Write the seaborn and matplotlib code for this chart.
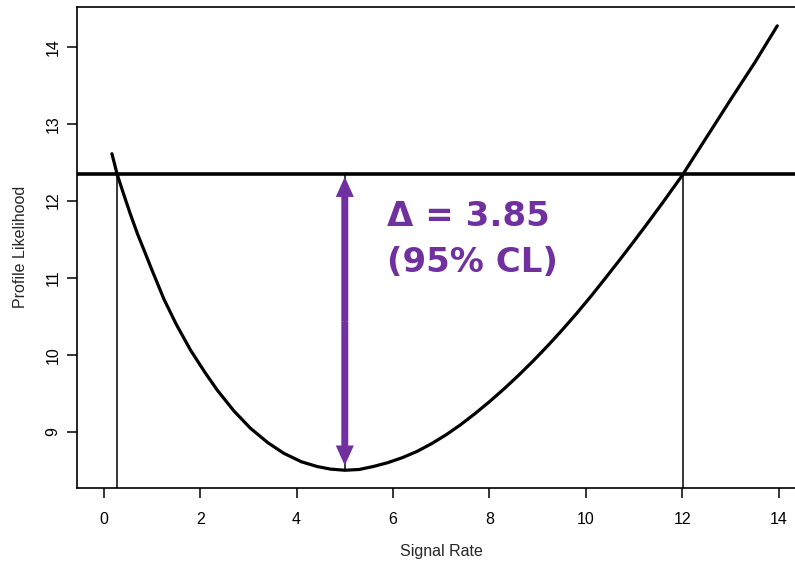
import seaborn as sns
from matplotlib import pyplot as plt
import pandas as pd

# Profile likelihood curve
signal_rate = [0.17, 0.28, 0.4, 0.55, 0.7, 0.835, 1.0, 1.25, 1.5, 1.8, 2.1, 2.355,
               2.7, 3.045, 3.4, 3.735, 4.1, 4.43, 4.7, 5.0, 5.3, 5.6, 5.9, 6.2,
               6.5, 6.8, 7.1, 7.4, 7.7, 8.0, 8.3, 8.6, 8.9, 9.2, 9.5, 9.8,
               10.1, 10.4, 10.7, 11.0, 11.3, 11.6, 12.0, 12.5, 13.0, 13.5, 13.97]
profile_lik = [12.61, 12.34, 12.11, 11.83, 11.57, 11.36, 11.10, 10.72, 10.40, 10.06, 9.77, 9.54,
               9.27, 9.044, 8.86, 8.72, 8.61, 8.548, 8.515, 8.50, 8.51, 8.55, 8.60, 8.665,
               8.745, 8.845, 8.96, 9.09, 9.235, 9.39, 9.555, 9.73, 9.915, 10.11, 10.315, 10.53,
               10.755, 10.99, 11.23, 11.475, 11.725, 11.98, 12.33, 12.82, 13.31, 13.79, 14.27]

threshold = 12.34          # minimum + 3.85
ci_bounds = [0.28, 12.01]  # where the curve crosses the threshold
best_fit = 5.0
min_value = 8.50
arrow_ends = [8.56, 12.31]

label_lines = ["Δ = 3.85", "(95% CL)"]
label_x = 5.88
label_y = [11.67, 11.08]
x_ticks = [0, 2, 4, 6, 8, 10, 12, 14]
y_ticks = [9, 10, 11, 12, 13, 14]

purple = "#7030A0"

sns.set_style("white")
plt.rcParams['font.family'] = ['Liberation Sans', 'DejaVu Sans']

df = pd.DataFrame({"Signal Rate": signal_rate, "Profile Likelihood": profile_lik})

fig = plt.figure(figsize=(7.95, 5.63), dpi=100)
ax = fig.add_axes([0.0965, 0.1337, 0.917, 0.8539])

sns.lineplot(x="Signal Rate", y="Profile Likelihood", data=df, ax=ax,
             color="black", lw=2.3, sort=False)

ax.set_xlim(-0.56, 14.56)
ax.set_ylim(8.273, 14.515)
ybottom = ax.get_ylim()[0]

ax.axhline(threshold, color="black", lw=2.6)
ax.vlines(ci_bounds, ybottom, threshold, color="black", lw=1.1)
ax.vlines([best_fit], min_value, threshold, color="black", lw=1.1)

# double headed purple arrow, drawn as two filled halves
mid = (arrow_ends[0] + arrow_ends[1]) / 2
for end in arrow_ends:
    ax.annotate("", xy=(best_fit, end), xytext=(best_fit, mid),
                arrowprops=dict(arrowstyle="simple,head_length=1.45,head_width=1.3,tail_width=0.5",
                                color=purple, lw=0, shrinkA=0, shrinkB=0,
                                mutation_scale=10))

for line, yy in zip(label_lines, label_y):
    ax.text(label_x, yy, line, color=purple, fontsize=24.5, fontweight="bold",
            family="DejaVu Sans", va="baseline", ha="left")

ax.set_xticks(x_ticks)
ax.set_yticks(y_ticks)
ax.set_yticklabels([str(v) for v in y_ticks], rotation=90, va="center")
ax.tick_params(axis="both", which="major", bottom=True, left=True,
               direction="out", length=7, width=1.1, labelsize=11.5,
               color="black", labelcolor="black")
ax.tick_params(axis="x", pad=10.5)
ax.tick_params(axis="y", pad=4.5)
for s in ax.spines.values():
    s.set_color("black")
    s.set_linewidth(1.2)

ax.set_xlabel("Signal Rate", fontsize=11.5, labelpad=12.5)
ax.set_ylabel("Profile Likelihood", fontsize=11.5, labelpad=13)

plt.savefig("out.png", dpi=100)
